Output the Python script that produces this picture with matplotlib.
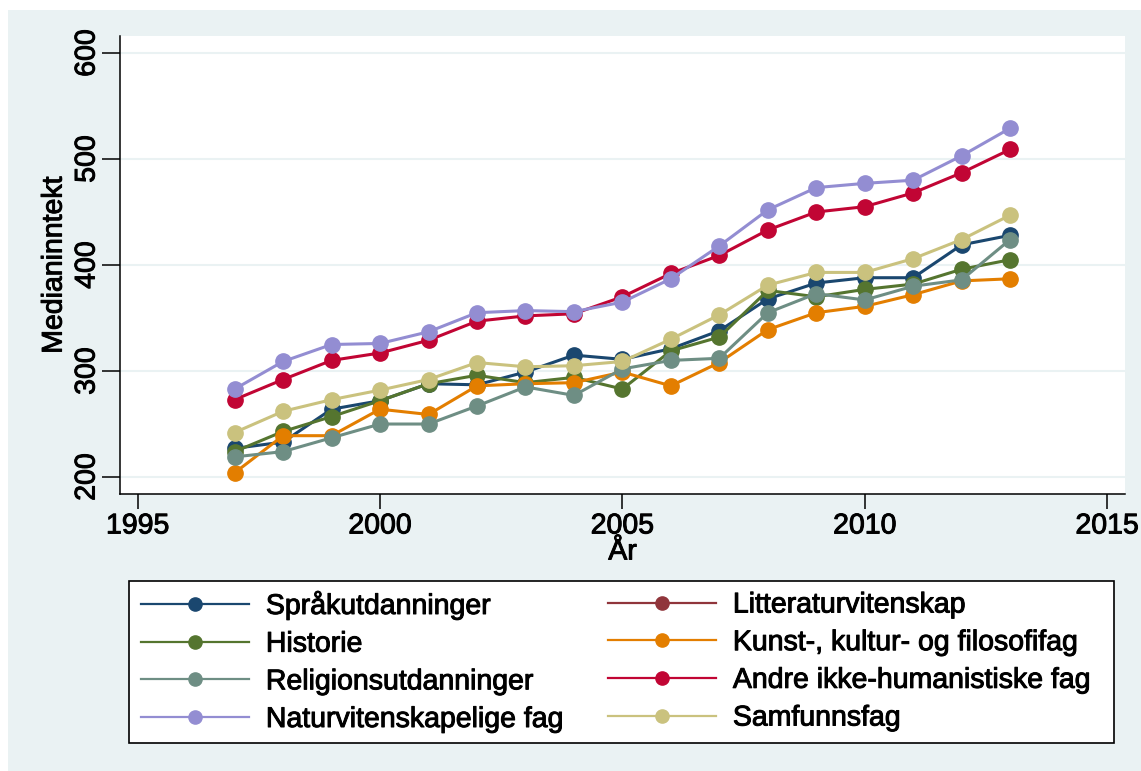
import matplotlib.pyplot as plt
import matplotlib.patheffects as pe
from matplotlib.lines import Line2D
from matplotlib.patches import Rectangle

plt.rcParams['font.family'] = ['Liberation Sans', 'DejaVu Sans']

years = [1997, 1998, 1999, 2000, 2001, 2002, 2003, 2004, 2005,
         2006, 2007, 2008, 2009, 2010, 2011, 2012, 2013]

sprak = [227, 233, 264, 272, 288, 287, 299, 315, 311, 321, 338, 368, 383, 388, 388, 419, 428]
litteratur = []  # no points visible in the chart
historie = [224, 243, 257, 272, 288, 296, 289, 294, 283, 319, 332, 376, 370, 377, 382, 396, 405]
kunst = [204, 239, 239, 264, 259, 286, 288, 289, 299, 286, 308, 339, 355, 361, 372, 385, 387]
religion = [219, 224, 237, 250, 250, 267, 285, 277, 302, 310, 312, 355, 373, 367, 380, 386, 424]
andre = [273, 292, 310, 317, 329, 347, 352, 354, 370, 392, 409, 433, 450, 455, 468, 487, 509]
naturvit = [283, 309, 325, 326, 337, 355, 357, 356, 365, 387, 418, 452, 473, 477, 480, 503, 529]
samfunn = [242, 262, 273, 282, 292, 308, 304, 305, 309, 330, 353, 381, 393, 393, 406, 424, 447]

labels = ['Språkutdanninger', 'Litteraturvitenskap', 'Historie',
          'Kunst-, kultur- og filosofifag', 'Religionsutdanninger',
          'Andre ikke-humanistiske fag', 'Naturvitenskapelige fag', 'Samfunnsfag']
colors = ['#1a476f', '#90353b', '#55752f', '#e37e00',
          '#6e8e84', '#c10534', '#938dd2', '#cac27e']
series = [sprak, litteratur, historie, kunst, religion, andre, naturvit, samfunn]

W, H = 1141, 771
fig = plt.figure(figsize=(W / 100, H / 100), dpi=100, facecolor='white')

# light background panel (Stata s2color)
fig.patches.append(Rectangle((8 / W, 0), 1 - 8 / W, 1 - 10 / H, transform=fig.transFigure,
                             facecolor='#eaf2f3', edgecolor='none', zorder=-5))

ax = fig.add_axes([120 / W, 1 - 494 / H, 1005 / W, 458 / H])
ax.set_facecolor('white')

for vals, c in zip(series, colors):
    if len(vals) == 0:
        continue
    ax.plot(years, vals, color=c, lw=2.2, marker='o', markersize=11, zorder=3)

ax.set_xlim(1994.635, 2015.37)
ax.set_ylim(184, 616)
ax.set_xticks([1995, 2000, 2005, 2010, 2015])
ax.set_yticks([200, 300, 400, 500, 600])
ax.grid(axis='y', color='#eaf2f3', lw=1.5, zorder=0)
ax.set_axisbelow(True)

for s in ['top', 'right']:
    ax.spines[s].set_visible(False)
for s in ['left', 'bottom']:
    ax.spines[s].set_linewidth(1.1)

# the stata export draws its text a bit heavier
heavy = [pe.withStroke(linewidth=0.7, foreground='black')]

fs = 20.5
ax.tick_params(axis='x', length=11, width=1.1, labelsize=fs, pad=3)
ax.tick_params(axis='y', length=13, width=1.1, labelsize=fs, pad=1)
plt.setp(ax.get_yticklabels(), rotation=90, va='center', path_effects=heavy)
plt.setp(ax.get_xticklabels(), path_effects=heavy)

ax.set_xlabel('År', fontsize=fs, labelpad=0, path_effects=heavy)
ax.set_ylabel('Medianinntekt', fontsize=fs, labelpad=5, path_effects=heavy)

# legend frame
fig.patches.append(Rectangle((129 / W, 1 - 743 / H), 985 / W, 162 / H, transform=fig.transFigure,
                             facecolor='white', edgecolor='black', lw=1.2, zorder=1))

handles = [Line2D([], [], color=c, lw=1.6, marker='o', markersize=9.5) for c in colors]
col1 = [0, 2, 4, 6]
col2 = [1, 3, 5, 7]
for idx, x0 in [(col1, 141), (col2, 608)]:
    leg = fig.legend([handles[i] for i in idx], [labels[i] for i in idx],
                     loc='center left', bbox_to_anchor=(x0 / W, 1 - 662 / H),
                     frameon=False, fontsize=fs, handlelength=108 / 28.5, handletextpad=17 / 28.5,
                     labelspacing=0.41, borderpad=0, borderaxespad=0, numpoints=1)
    for t in leg.get_texts():
        t.set_path_effects(heavy)

fig.savefig('out.png', dpi=100, facecolor=fig.get_facecolor())
